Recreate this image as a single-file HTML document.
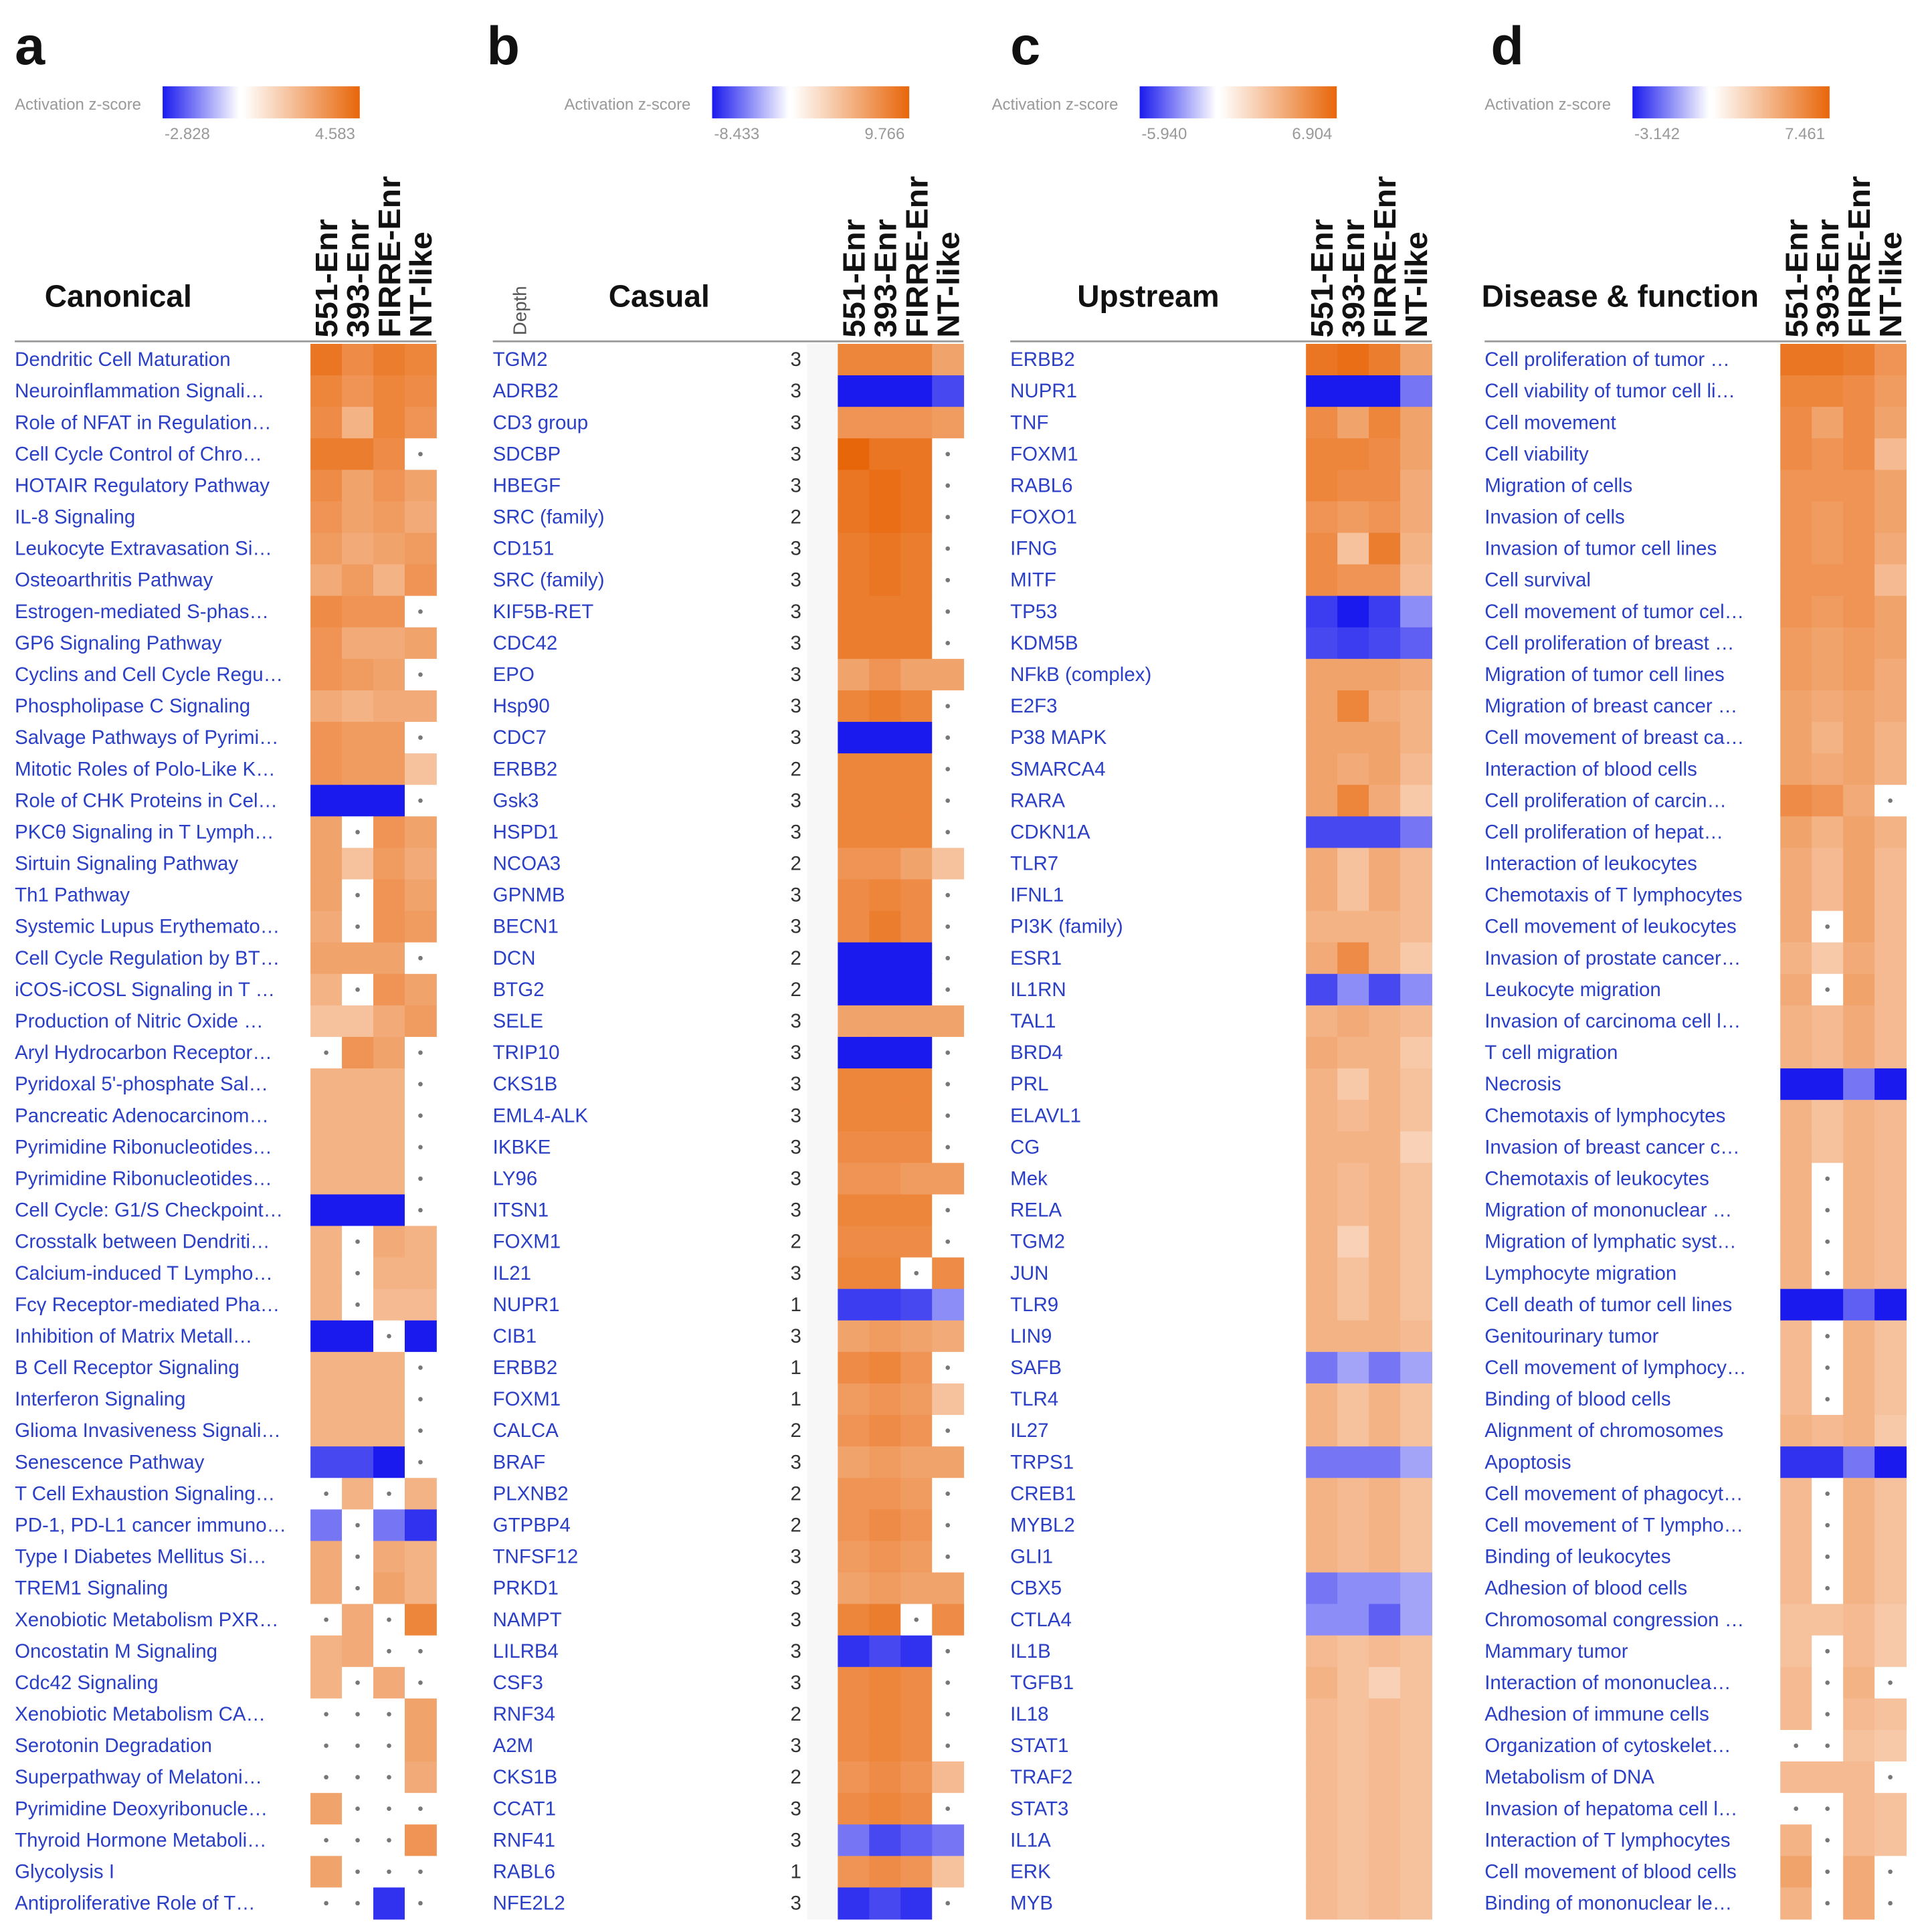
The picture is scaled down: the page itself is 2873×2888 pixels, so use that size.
<!DOCTYPE html>
<html><head><meta charset="utf-8"><style>
body{margin:0;background:#fff}
svg{display:block}
text{font-family:"Liberation Sans",sans-serif}
</style></head><body>
<svg id="chart" width="2873" height="2888" viewBox="0 0 1560 1568" xmlns="http://www.w3.org/2000/svg">
<defs>
<linearGradient id="gneg" x1="0" x2="1"><stop offset="0" stop-color="#1a1aee"/><stop offset="1" stop-color="#ffffff"/></linearGradient>
<linearGradient id="gpos" x1="0" x2="1"><stop offset="0" stop-color="#ffffff"/><stop offset="1" stop-color="#e8660a"/></linearGradient>
</defs>
<g id="root"></g>
</svg>
<script>
const colNames=["551-Enr","393-Enr","FIRRE-Enr","NT-like"];
const n=null;
const labelsA=["Dendritic Cell Maturation","Neuroinflammation Signali…","Role of NFAT in Regulation…","Cell Cycle Control of Chro…","HOTAIR Regulatory Pathway","IL-8 Signaling","Leukocyte Extravasation Si…","Osteoarthritis Pathway","Estrogen-mediated S-phas…","GP6 Signaling Pathway","Cyclins and Cell Cycle Regu…","Phospholipase C Signaling","Salvage Pathways of Pyrimi…","Mitotic Roles of Polo-Like K…","Role of CHK Proteins in Cel…","PKCθ Signaling in T Lymph…","Sirtuin Signaling Pathway","Th1 Pathway","Systemic Lupus Erythemato…","Cell Cycle Regulation by BT…","iCOS-iCOSL Signaling in T …","Production of Nitric Oxide …","Aryl Hydrocarbon Receptor…","Pyridoxal 5'-phosphate Sal…","Pancreatic Adenocarcinom…","Pyrimidine Ribonucleotides…","Pyrimidine Ribonucleotides…","Cell Cycle: G1/S Checkpoint…","Crosstalk between Dendriti…","Calcium-induced T Lympho…","Fcγ Receptor-mediated Pha…","Inhibition of Matrix Metall…","B Cell Receptor Signaling","Interferon Signaling","Glioma Invasiveness Signali…","Senescence Pathway","T Cell Exhaustion Signaling…","PD-1, PD-L1 cancer immuno…","Type I Diabetes Mellitus Si…","TREM1 Signaling","Xenobiotic Metabolism PXR…","Oncostatin M Signaling","Cdc42 Signaling","Xenobiotic Metabolism CA…","Serotonin Degradation","Superpathway of Melatoni…","Pyrimidine Deoxyribonucle…","Thyroid Hormone Metaboli…","Glycolysis I","Antiproliferative Role of T…"];
const valuesA=[[.9,.75,.85,.8],[.8,.7,.8,.75],[.75,.5,.8,.7],[.85,.85,.75,n],[.75,.6,.7,.6],[.7,.6,.65,.55],[.65,.55,.6,.65],[.55,.65,.5,.7],[.75,.7,.7,n],[.7,.55,.55,.6],[.7,.65,.6,n],[.55,.5,.55,.55],[.7,.65,.65,n],[.7,.65,.65,.4],[-1,-1,-1,n],[.6,n,.7,.6],[.6,.4,.65,.55],[.6,n,.7,.6],[.55,n,.7,.65],[.6,.6,.6,n],[.5,n,.7,.6],[.4,.4,.55,.65],[n,.7,.6,n],[.5,.5,.5,n],[.5,.5,.5,n],[.5,.5,.5,n],[.5,.5,.5,n],[-1,-1,-1,n],[.5,n,.55,.5],[.5,n,.5,.5],[.5,n,.45,.45],[-1,-1,n,-1],[.5,.5,.5,n],[.5,.5,.5,n],[.5,.5,.5,n],[-.8,-.8,-1,n],[n,.5,n,.5],[-.6,n,-.6,-.9],[.55,n,.55,.5],[.55,n,.6,.5],[n,.55,n,.8],[.5,.55,n,n],[.5,n,.55,n],[n,n,n,.6],[n,n,n,.6],[n,n,n,.55],[.6,n,n,n],[n,n,n,.7],[.6,n,n,n],[n,n,-.9,n]];
const labelsB=["TGM2","ADRB2","CD3 group","SDCBP","HBEGF","SRC (family)","CD151","SRC (family)","KIF5B-RET","CDC42","EPO","Hsp90","CDC7","ERBB2","Gsk3","HSPD1","NCOA3","GPNMB","BECN1","DCN","BTG2","SELE","TRIP10","CKS1B","EML4-ALK","IKBKE","LY96","ITSN1","FOXM1","IL21","NUPR1","CIB1","ERBB2","FOXM1","CALCA","BRAF","PLXNB2","GTPBP4","TNFSF12","PRKD1","NAMPT","LILRB4","CSF3","RNF34","A2M","CKS1B","CCAT1","RNF41","RABL6","NFE2L2"];
const depthB=[3,3,3,3,3,2,3,3,3,3,3,3,3,2,3,3,2,3,3,2,2,3,3,3,3,3,3,3,2,3,1,3,1,1,2,3,2,2,3,3,3,3,3,2,3,2,3,3,1,3];
const valuesB=[[.8,.8,.8,.6],[-1,-1,-1,-.8],[.7,.7,.7,.65],[1,.9,.9,n],[.9,.95,.9,n],[.9,.95,.9,n],[.85,.9,.85,n],[.85,.9,.85,n],[.85,.85,.85,n],[.85,.85,.85,n],[.6,.7,.6,.6],[.8,.85,.8,n],[-1,-1,-1,n],[.8,.8,.8,n],[.8,.8,.8,n],[.8,.8,.8,n],[.7,.7,.6,.4],[.75,.8,.75,n],[.75,.85,.75,n],[-1,-1,-1,n],[-1,-1,-1,n],[.6,.6,.6,.6],[-1,-1,-1,n],[.8,.8,.8,n],[.8,.8,.8,n],[.75,.75,.75,n],[.7,.7,.65,.65],[.8,.8,.8,n],[.75,.75,.75,n],[.8,.8,n,.75],[-.85,-.85,-.8,-.5],[.6,.65,.6,.55],[.75,.8,.7,n],[.65,.7,.65,.4],[.7,.75,.7,n],[.6,.65,.6,.6],[.7,.7,.65,n],[.7,.75,.7,n],[.65,.7,.65,n],[.6,.65,.6,.6],[.8,.85,n,.75],[-.9,-.8,-.9,n],[.75,.8,.75,n],[.75,.8,.75,n],[.75,.8,.75,n],[.7,.75,.7,.45],[.75,.8,.75,n],[-.6,-.8,-.7,-.6],[.7,.75,.7,.4],[-.9,-.8,-.9,n]];
const labelsC=["ERBB2","NUPR1","TNF","FOXM1","RABL6","FOXO1","IFNG","MITF","TP53","KDM5B","NFkB (complex)","E2F3","P38 MAPK","SMARCA4","RARA","CDKN1A","TLR7","IFNL1","PI3K (family)","ESR1","IL1RN","TAL1","BRD4","PRL","ELAVL1","CG","Mek","RELA","TGM2","JUN","TLR9","LIN9","SAFB","TLR4","IL27","TRPS1","CREB1","MYBL2","GLI1","CBX5","CTLA4","IL1B","TGFB1","IL18","STAT1","TRAF2","STAT3","IL1A","ERK","MYB"];
const valuesC=[[.9,.95,.85,.6],[-1,-1,-1,-.6],[.75,.6,.8,.6],[.8,.8,.75,.6],[.8,.75,.75,.55],[.7,.65,.7,.55],[.75,.4,.85,.5],[.75,.7,.7,.45],[-.85,-1,-.85,-.5],[-.8,-.85,-.8,-.7],[.6,.6,.6,.55],[.6,.8,.55,.5],[.6,.6,.6,.5],[.6,.55,.6,.45],[.6,.8,.55,.35],[-.8,-.8,-.8,-.6],[.55,.4,.55,.45],[.55,.4,.55,.45],[.5,.5,.5,.45],[.55,.75,.5,.35],[-.8,-.5,-.8,-.5],[.5,.55,.5,.45],[.55,.5,.5,.35],[.5,.35,.5,.4],[.5,.45,.5,.4],[.5,.5,.5,.3],[.5,.45,.5,.4],[.5,.45,.5,.4],[.5,.3,.5,.4],[.5,.4,.5,.4],[.5,.4,.5,.4],[.5,.5,.5,.45],[-.6,-.4,-.6,-.4],[.5,.4,.5,.4],[.5,.4,.5,.4],[-.6,-.6,-.6,-.4],[.5,.45,.5,.4],[.5,.45,.5,.4],[.5,.45,.5,.4],[-.6,-.5,-.5,-.4],[-.5,-.5,-.7,-.4],[.45,.4,.45,.4],[.5,.4,.3,.4],[.45,.4,.45,.4],[.45,.4,.45,.4],[.45,.4,.45,.4],[.45,.4,.45,.4],[.45,.4,.45,.4],[.45,.4,.45,.4],[.45,.4,.45,.4]];
const labelsD=["Cell proliferation of tumor …","Cell viability of tumor cell li…","Cell movement","Cell viability","Migration of cells","Invasion of cells","Invasion of tumor cell lines","Cell survival","Cell movement of tumor cel…","Cell proliferation of breast …","Migration of tumor cell lines","Migration of breast cancer …","Cell movement of breast ca…","Interaction of blood cells","Cell proliferation of carcin…","Cell proliferation of hepat…","Interaction of leukocytes","Chemotaxis of T lymphocytes","Cell movement of leukocytes","Invasion of prostate cancer…","Leukocyte migration","Invasion of carcinoma cell l…","T cell migration","Necrosis","Chemotaxis of lymphocytes","Invasion of breast cancer c…","Chemotaxis of leukocytes","Migration of mononuclear …","Migration of lymphatic syst…","Lymphocyte migration","Cell death of tumor cell lines","Genitourinary tumor","Cell movement of lymphocy…","Binding of blood cells","Alignment of chromosomes","Apoptosis","Cell movement of phagocyt…","Cell movement of T lympho…","Binding of leukocytes","Adhesion of blood cells","Chromosomal congression …","Mammary tumor","Interaction of mononuclea…","Adhesion of immune cells","Organization of cytoskelet…","Metabolism of DNA","Invasion of hepatoma cell l…","Interaction of T lymphocytes","Cell movement of blood cells","Binding of mononuclear le…"];
const valuesD=[[.9,.9,.85,.7],[.8,.8,.75,.65],[.75,.6,.75,.6],[.75,.7,.75,.45],[.7,.7,.7,.6],[.7,.65,.7,.6],[.7,.65,.7,.55],[.7,.7,.7,.45],[.7,.65,.7,.6],[.65,.6,.65,.6],[.65,.6,.65,.55],[.6,.55,.6,.55],[.6,.5,.6,.5],[.6,.55,.6,.5],[.75,.7,.55,n],[.6,.5,.6,.5],[.55,.45,.6,.45],[.55,.45,.6,.45],[.55,n,.6,.45],[.5,.35,.55,.45],[.55,n,.6,.45],[.5,.45,.55,.45],[.5,.45,.55,.45],[-1,-1,-.6,-1],[.5,.4,.5,.45],[.5,.4,.5,.45],[.5,n,.5,.45],[.5,n,.5,.45],[.5,n,.5,.45],[.5,n,.5,.45],[-1,-1,-.7,-1],[.45,n,.5,.4],[.45,n,.5,.4],[.45,n,.5,.4],[.5,.45,.5,.35],[-.9,-.9,-.6,-1],[.45,n,.5,.4],[.45,n,.5,.4],[.45,n,.5,.4],[.45,n,.5,.4],[.4,.4,.45,.35],[.4,n,.45,.35],[.45,n,.5,n],[.45,n,.45,.4],[n,n,.4,.35],[.45,.45,.45,n],[n,n,.45,.4],[.5,n,.45,.4],[.6,n,.55,n],[.5,n,.55,n]];
const legendMin=["-2.828","-8.433","-5.940","-3.142"];
const legendMax=["4.583","9.766","6.904","7.461"];

const NS="http://www.w3.org/2000/svg";
const root=document.getElementById('root');
function mk(tag,attrs,parent,txt){const e=document.createElementNS(NS,tag);for(const k in attrs)e.setAttribute(k,attrs[k]);if(txt!==undefined)e.textContent=txt;(parent||root).appendChild(e);return e;}
function color(v){
  const mix=(a,b,t)=>Math.round(a+(b-a)*t);
  if(v>=0){return `rgb(${mix(255,232,v)},${mix(255,102,v)},${mix(255,10,v)})`;}
  const t=-v;return `rgb(${mix(255,26,t)},${mix(255,26,t)},${mix(255,238,t)})`;
}
const rowTop=279, rowH=25.57, cellW=25.5;
const yScale=i=>rowTop+i*rowH;
const xScale=(x0,j)=>x0+j*cellW;
const panels=[
 {letter:"a",lx:12,title:"Canonical",tx:96,labelX:12,hx:252,legX:12,barX:132,labels:labelsA,values:valuesA},
 {letter:"b",lx:395,title:"Casual",tx:535,labelX:400,hx:680,legX:458,barX:578,labels:labelsB,values:valuesB,depth:depthB},
 {letter:"c",lx:820,title:"Upstream",tx:932,labelX:820,hx:1060,legX:805,barX:925,labels:labelsC,values:valuesC},
 {letter:"d",lx:1210,title:"Disease & function",tx:1315,labelX:1205,hx:1445,legX:1205,barX:1325,labels:labelsD,values:valuesD}
];
panels.forEach((p,pi)=>{
  const g=mk('g',{});
  
  
  const L=mk('text',{x:p.lx,y:52,'font-size':44,'font-weight':'bold',fill:'#111'},g,p.letter);
  
  
  const lt=mk('text',{x:p.legX,y:89,'font-size':13,fill:'#999'},g,'Activation z-score');
  
  
  const b1=mk('rect',{x:p.barX,y:70,width:62,height:26,fill:'url(#gneg)'},g);
  
  
  const b2=mk('rect',{x:p.barX+65,y:70,width:95,height:26,fill:'url(#gpos)'},g);
  
  
  const mn=mk('text',{x:p.barX+20,y:113,'font-size':13,fill:'#999','text-anchor':'middle'},g,legendMin[pi]);
  
  
  const mx=mk('text',{x:p.barX+140,y:113,'font-size':13,fill:'#999','text-anchor':'middle'},g,legendMax[pi]);
  
  
  const tt=mk('text',{x:p.tx,y:249,'font-size':25,'font-weight':'bold',fill:'#111','text-anchor':'middle'},g,p.title);
  
  
  if(p.depth){
    const d=mk('text',{x:0,y:0,'font-size':15,fill:'#555',transform:`translate(427,272) rotate(-90)`},g,'Depth');
    
    
  }
  colNames.forEach((c,j)=>{
    const cx=xScale(p.hx,j)+cellW/2+9;
    const t=mk('text',{x:0,y:0,'font-size':25,'font-weight':'bold',fill:'#111',transform:`translate(${cx},274) rotate(-90) scale(1.05,1)`},g,c);
    
    
  });
  const ln=mk('line',{x1:p.labelX,x2:p.hx+4*cellW,y1:277,y2:277,stroke:'#999','stroke-width':1.5},g);
  
  
  p.labels.forEach((lab,i)=>{
    const y=yScale(i);
    const t=mk('text',{x:p.labelX,y:y+18,'font-size':16,fill:'#2a3fc6'},g,lab);
    
    
    if(p.depth){
      const d=mk('text',{x:646,y:y+18,'font-size':16,fill:'#333','text-anchor':'middle'},g,String(p.depth[i]));
      
      
      const bg=mk('rect',{x:655,y:y,width:25,height:rowH+0.5,fill:'#f7f7f7'},g);
      
      
    }
    p.values[i].forEach((v,j)=>{
      const x=xScale(p.hx,j);
      const r=mk('rect',{x:x,y:y,width:cellW+0.5,height:rowH+0.5,fill:v===null?'#ffffff':color(v)},g);
      
      
      if(v===null){
        const dt=mk('circle',{cx:x+cellW/2,cy:y+rowH/2,r:1.8,fill:'#777'},g);
        
        
      }
    });
  });
});
</script>
</body></html>
